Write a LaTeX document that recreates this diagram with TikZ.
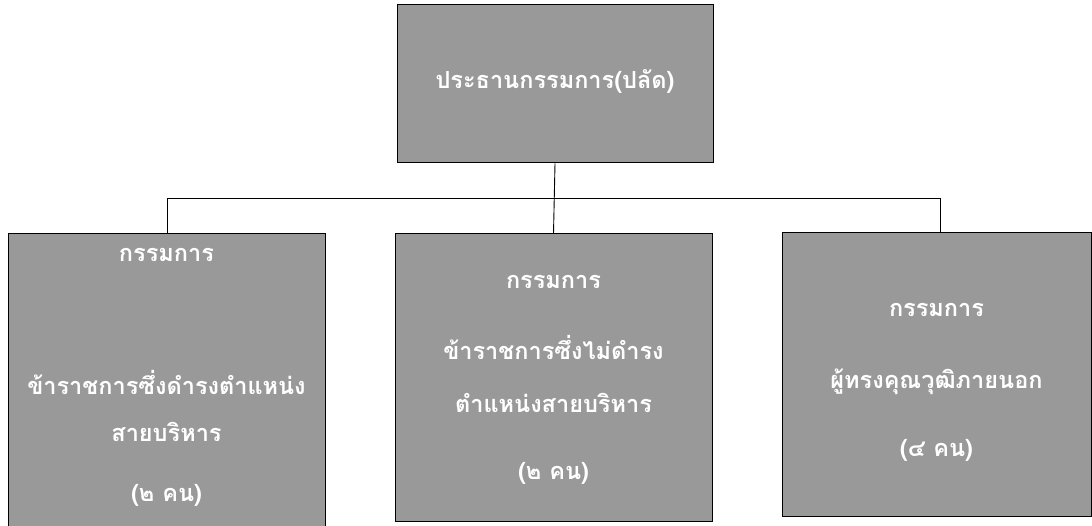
\documentclass[tikz,border=0pt]{standalone}
\usepackage{fontspec}
\newfontfamily\thaifont[Script=Thai]{Loma}
\begin{document}
\begin{tikzpicture}[x=1pt,y=1pt,
  box/.style={draw=black,line width=1pt,fill=black!40,rectangle,inner sep=0pt},
  lbl/.style={text=white,font=\thaifont\bfseries\fontsize{23.5}{26}\selectfont,inner sep=0pt,anchor=center},
  conn/.style={draw=black,line width=0.9pt}]
\useasboundingbox (0,0) rectangle (1092,526);
% boxes (y measured from bottom: y = 526 - image y)
\node[box,minimum width=316,minimum height=158] (top) at (555,442) {};
\node[box,minimum width=317,minimum height=294] (left) at (166.5,145) {};
\node[box,minimum width=317,minimum height=288] (mid) at (553.5,148) {};
\node[box,minimum width=309,minimum height=284] (right) at (936.5,151) {};
% labels
\node[lbl] (t1) at (555,444) {ประธานกรรมการ(ปลัด)};
\node[lbl] (l1) at (166.5,271) {กรรมการ};
\node[lbl] (l2) at (166.5,144) {ข้าราชการซึ่งดำรงตำแหน่ง};
\node[lbl] (l3) at (166.5,94) {สายบริหาร};
\node[lbl] (l4) at (166.5,31) {(๒ คน)};
\node[lbl] (m1) at (553.5,244) {กรรมการ};
\node[lbl] (m2) at (553.5,179) {ข้าราชการซึ่งไม่ดำรง};
\node[lbl] (m3) at (553.5,123) {ตำแหน่งสายบริหาร};
\node[lbl] (m4) at (553.5,53) {(๒ คน)};
\node[lbl] (r1) at (936.5,216) {กรรมการ};
\node[lbl] (r2) at (936.5,144) {ผู้ทรงคุณวุฒิภายนอก};
\node[lbl] (r3) at (936.5,76) {(๔ คน)};
% connectors
\coordinate (hl) at (167,328);
\coordinate (hr) at (940,328);
\draw[conn] (top.south) -- (mid.north);
\draw[conn] (hl) -- (hr);
\draw[conn] (hl) -- (hl |- left.north);
\draw[conn] (hr) -- (hr |- right.north);
\end{tikzpicture}
\end{document}
